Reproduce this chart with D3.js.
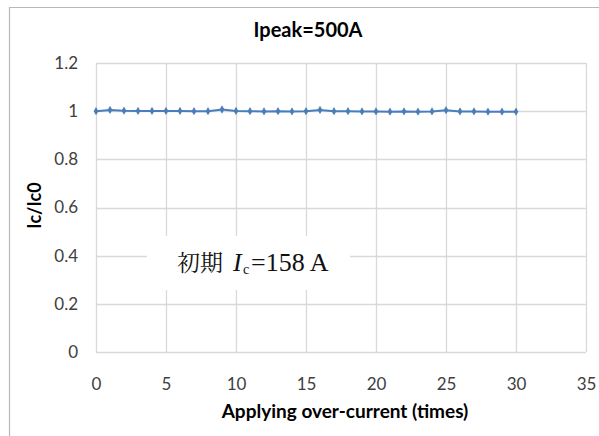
<!DOCTYPE html>
<html>
<head>
<meta charset="utf-8">
<script src="https://cdn.jsdelivr.net/npm/d3@7"></script>
<style>
  html, body { margin: 0; padding: 0; background: #fff; }
  svg { display: block; }
</style>
</head>
<body>
<svg id="chart" width="599" height="436"></svg>
<script>
// Normalised critical current after each over-current pulse
const shots = d3.range(0, 31);
const icRatio = [1.000, 1.005, 1.002, 1.001, 1.001, 1.001, 1.001, 1.000, 1.000, 1.007,
                 1.001, 1.000, 0.999, 1.000, 0.999, 1.000, 1.005, 1.000, 1.000, 0.999,
                 0.999, 0.998, 0.999, 0.998, 0.999, 1.004, 0.999, 0.999, 0.998, 0.998, 0.998];
const xTicks = [0, 5, 10, 15, 20, 25, 30, 35];
const yTicks = [0, 0.2, 0.4, 0.6, 0.8, 1.0, 1.2];
const chartTitle = "Ipeak=500A";
const xTitle = "Applying  over-current (times)";
const yTitle = "Ic/Ic0";

const svg = d3.select("#chart");
const plot = { left: 96, right: 586, top: 63, bottom: 352 };
const sans = "Lato, 'Open Sans', sans-serif";
const serif = "'Liberation Serif', 'DejaVu Serif', serif";

const x = d3.scaleLinear().domain([0, 35]).range([plot.left, plot.right]);
const y = d3.scaleLinear().domain([0, 1.2]).range([plot.bottom, plot.top]);

// chart frame (only top and left edges fall inside the view)
svg.append("path")
  .attr("d", `M9.5,436 V7.5 H599`)
  .attr("fill", "none").attr("stroke", "#b8b8b8").attr("stroke-width", 1.2);

// gridlines
const grid = svg.append("g").attr("stroke", "#d9d9d9").attr("stroke-width", 1.3);
grid.selectAll("line.h").data(yTicks).join("line")
  .attr("x1", plot.left).attr("x2", plot.right)
  .attr("y1", d => Math.round(y(d)) + 0.5).attr("y2", d => Math.round(y(d)) + 0.5);
grid.selectAll("line.v").data(xTicks).join("line")
  .attr("y1", plot.top).attr("y2", plot.bottom)
  .attr("x1", d => Math.round(x(d)) + 0.5).attr("x2", d => Math.round(x(d)) + 0.5);

// axes (labels only, Excel style)
const xAxis = svg.append("g").attr("transform", `translate(0,${plot.bottom})`)
  .call(d3.axisBottom(x).tickValues(xTicks).tickSize(0).tickPadding(26).tickFormat(d3.format("d")));
const yAxis = svg.append("g").attr("transform", `translate(${plot.left},0)`)
  .call(d3.axisLeft(y).tickValues(yTicks).tickSize(0).tickPadding(18).tickFormat(d => d3.format("")(+d.toFixed(1))));
[xAxis, yAxis].forEach(g => {
  g.select(".domain").remove();
  g.selectAll("text").attr("fill", "#404040").style("font-family", sans).style("font-size", "17px");
});

// data line with diamond markers
const line = d3.line().x((d, i) => x(shots[i])).y(d => y(d));
svg.append("path").datum(icRatio)
  .attr("d", line).attr("fill", "none").attr("stroke", "#4a7ebb").attr("stroke-width", 2);
svg.append("g").selectAll("path").data(icRatio).join("path")
  .attr("d", d3.symbol(d3.symbolDiamond, 20))
  .attr("transform", (d, i) => `translate(${x(shots[i])},${y(d)})`)
  .attr("fill", "#4a7ebb");

// titles
svg.append("text").attr("x", 308).attr("y", 37).attr("text-anchor", "middle")
  .style("font-family", sans).style("font-weight", "bold").style("font-size", "20px")
  .attr("fill", "#000").text(chartTitle);
svg.append("text").attr("x", (plot.left + plot.right) / 2 + 4).attr("y", 418).attr("text-anchor", "middle")
  .style("font-family", sans).style("font-weight", "bold").style("font-size", "19px")
  .attr("fill", "#000").text(xTitle);
svg.append("text").attr("transform", `translate(41,${(plot.top + plot.bottom) / 2 - 2}) rotate(-90)`)
  .attr("text-anchor", "middle")
  .style("font-family", sans).style("font-weight", "bold").style("font-size", "18px")
  .attr("fill", "#000").text(yTitle);

// initial Ic annotation
svg.append("rect").attr("x", 147).attr("y", 236).attr("width", 203).attr("height", 54).attr("fill", "#fff");
const note = svg.append("text").attr("y", 271).attr("fill", "#111");
note.append("tspan").attr("x", 177)
  .style("font-family", "'Noto Serif CJK JP', 'Noto Sans CJK JP', serif").style("font-size", "23px").text("初期");
note.append("tspan").attr("x", 233)
  .style("font-family", serif).style("font-style", "italic").style("font-size", "26px").text("I");
note.append("tspan").attr("x", 243).attr("dy", 3)
  .style("font-family", serif).style("font-size", "14px").text("c");
note.append("tspan").attr("x", 251).attr("dy", -3)
  .style("font-family", serif).style("font-size", "26px").text("=158 A");
</script>
</body>
</html>
